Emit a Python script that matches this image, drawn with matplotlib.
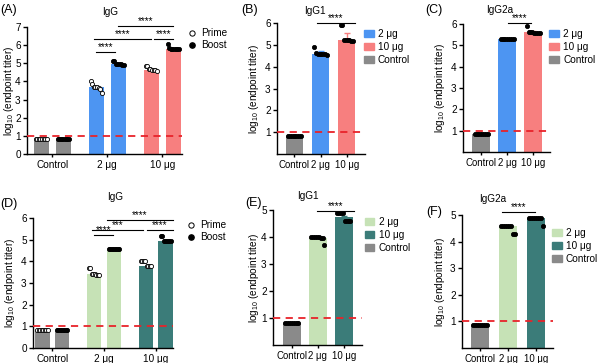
import numpy as np
import matplotlib
matplotlib.use("Agg")
import matplotlib.pyplot as plt
from matplotlib.patches import Patch
from matplotlib.lines import Line2D

plt.rcParams['font.family'] = ['Liberation Sans', 'DejaVu Sans']
plt.rcParams['mathtext.fontset'] = 'custom'
plt.rcParams['mathtext.rm'] = 'Liberation Sans'
plt.rcParams['mathtext.default'] = 'regular'
FS = 7.2
plt.rcParams['font.size'] = FS

# colours
blue = '#4d95f2'
salmon = '#f77f7f'
grey = '#8a8a8a'
green = '#c6e2b6'
teal = '#3b7c79'
red = '#e8232a'

groups = ['Control', '2 μg', '10 μg']

# ---- (A) IgG, prime / boost ----
a_prime = [0.85, 3.7, 4.65]
a_boost = [0.85, 4.97, 5.8]
a_prime_pts = [[0.85] * 8,
               [4.0, 3.85, 3.72, 3.7, 3.7, 3.65, 3.6, 3.35],
               [4.85, 4.85, 4.68, 4.66, 4.65, 4.64, 4.62, 4.6]]
a_boost_pts = [[0.85] * 8,
               [5.15, 5.15, 4.98, 4.97, 4.95, 4.95, 4.93, 4.92],
               [6.05, 5.82, 5.8, 5.8, 5.8, 5.8, 5.79, 5.78]]

# ---- (B) IgG1 ----
b_vals = [0.82, 4.6, 5.2]
b_err = [0.02, 0.1, 0.35]
b_pts = [[0.82] * 8,
         [4.9, 4.62, 4.6, 4.6, 4.58, 4.58, 4.57, 4.55],
         [5.9, 5.9, 5.22, 5.2, 5.2, 5.2, 5.18, 5.18]]

# ---- (C) IgG2a ----
c_vals = [0.85, 5.3, 5.62]
c_err = [0.02, 0.02, 0.06]
c_pts = [[0.85] * 8,
         [5.32, 5.31, 5.3, 5.3, 5.3, 5.29, 5.29, 5.28],
         [5.9, 5.64, 5.62, 5.62, 5.6, 5.6, 5.6, 5.58]]

# ---- (D) IgG, prime / boost ----
d_prime = [0.85, 3.4, 3.8]
d_boost = [0.85, 4.58, 4.95]
d_prime_pts = [[0.85] * 8,
               [3.7, 3.7, 3.4, 3.4, 3.4, 3.38, 3.38, 3.36],
               [4.0, 4.0, 4.0, 4.0, 3.8, 3.8, 3.8, 3.8]]
d_boost_pts = [[0.85] * 8,
               [4.58, 4.58, 4.58, 4.58, 4.58, 4.58, 4.58, 4.58],
               [5.15, 5.15, 4.95, 4.95, 4.95, 4.95, 4.93, 4.93]]

# ---- (E) IgG1 ----
e_vals = [0.82, 3.98, 4.75]
e_err = [0.02, 0.03, 0.04]
e_pts = [[0.82] * 8,
         [4.0, 4.0, 4.0, 4.0, 4.0, 3.98, 3.98, 3.7],
         [4.9, 4.9, 4.9, 4.9, 4.6, 4.6, 4.6, 4.6]]

# ---- (F) IgG2a ----
f_vals = [0.85, 4.58, 4.9]
f_err = [0.02, 0.04, 0.03]
f_pts = [[0.85] * 8,
         [4.6, 4.6, 4.6, 4.6, 4.6, 4.58, 4.3, 4.3],
         [4.9, 4.9, 4.9, 4.9, 4.9, 4.9, 4.88, 4.6]]

W, H = 600, 363
fig = plt.figure(figsize=(6, 3.63), dpi=100)


def make_ax(x0, x1, ytop, ybot, ylab_right):
    ax = fig.add_axes([x0 / W, 1 - ybot / H, (x1 - x0) / W, (ybot - ytop) / H])
    for s in ['top', 'right']:
        ax.spines[s].set_visible(False)
    for s in ['left', 'bottom']:
        ax.spines[s].set_linewidth(1.0)
    ax.tick_params(length=3, width=1.0, pad=1.5, labelsize=FS)
    ax.tick_params(axis='x', length=2, pad=2)
    ax.set_ylabel(r'log$_{10}$ (endpoint titer)', fontsize=FS)
    ax.yaxis.set_label_coords((ylab_right - x0) / (x1 - x0), 0.5)
    return ax


def dots(ax, x, pts, width, filled=True):
    pts = np.asarray(pts)
    xs = x + np.linspace(-width * 0.36, width * 0.36, len(pts))
    ax.plot(xs, pts, 'o', ms=3.0, mec='black', mew=0.6,
            mfc='black' if filled else 'white', zorder=4, clip_on=False)


def sig(ax, x1, x2, y, txt):
    ax.plot([x1, x2], [y, y], color='black', lw=0.8, clip_on=False)
    ax.text((x1 + x2) / 2, y, txt, ha='center', va='bottom', fontsize=FS,
            clip_on=False)


def paired(ax, prime, boost, ppts, bpts, cols, off, width, ymax):
    x = np.arange(len(groups))
    for i in x:
        for xx, v, pts, filled in [(i - off, prime[i], ppts[i], False),
                                   (i + off, boost[i], bpts[i], True)]:
            ax.bar(xx, v, width, color=cols[i], zorder=2)
            dots(ax, xx, pts, width, filled)
    ax.axhline(1, color=red, ls=(0, (4, 3)), lw=1.3, zorder=3)
    ax.set_xticks(x)
    ax.set_xticklabels(groups)
    ax.set_ylim(0, ymax)
    ax.set_yticks(range(ymax + 1))


def single(ax, vals, err, pts, cols, width, ymax):
    x = np.arange(len(vals))
    for i in x:
        ax.bar(i, vals[i], width, color=cols[i], zorder=2,
               yerr=err[i], error_kw=dict(ecolor=cols[i], lw=1, capsize=2, capthick=1))
        dots(ax, i, pts[i], width)
    ax.axhline(1, color=red, ls=(0, (4, 3)), lw=1.3, zorder=3)
    ax.set_xticks(x)
    ax.set_xticklabels(groups, fontsize=6.9)
    ax.set_ylim(0, ymax)
    ax.set_yticks(range(1, ymax + 1))


def bar_legend(cols, x, y):
    h = [Patch(color=cols[1]), Patch(color=cols[2]), Patch(color=cols[0])]
    fig.legend(h, ['2 μg', '10 μg', 'Control'], loc='upper left',
               bbox_to_anchor=(x / W, 1 - y / H), frameon=False, fontsize=FS,
               handlelength=0.95, handleheight=0.65, handletextpad=0.45,
               labelspacing=0.3, borderaxespad=0, borderpad=0)


def prime_legend(x, y):
    h = [Line2D([], [], ls='', marker='o', ms=3.8, mfc='white', mec='black', mew=0.7),
         Line2D([], [], ls='', marker='o', ms=3.8, mfc='black', mec='black')]
    fig.legend(h, ['Prime', 'Boost'], loc='upper left',
               bbox_to_anchor=(x / W, 1 - y / H), frameon=False, fontsize=FS,
               handlelength=0.8, handletextpad=0.5, labelspacing=0.25,
               borderaxespad=0, borderpad=0)


def label(x, y, txt, size=9):
    fig.text(x / W, 1 - y / H, txt, fontsize=size, ha='left', va='center')


def title(x, y, txt):
    fig.text(x / W, 1 - y / H, txt, fontsize=FS, ha='center', va='center')


# (A)
ax = make_ax(27, 182, 27, 154, 16)
paired(ax, a_prime, a_boost, a_prime_pts, a_boost_pts, [grey, blue, salmon], 0.2, 0.28, 7)
ax.set_xlim(-0.46, 2.36)
sig(ax, 0.8, 1.15, 5.6, '****')
sig(ax, 0.75, 1.8, 6.35, '****')
sig(ax, 1.85, 2.2, 6.35, '****')
sig(ax, 1.2, 2.2, 7.05, '****')
title(110, 12, 'IgG')
prime_legend(188, 28)
label(0, 10, '(A)')

# (B)
ax = make_ax(277, 365, 23, 154, 261)
single(ax, b_vals, b_err, b_pts, [grey, blue, salmon], 0.66, 6)
ax.set_xlim(-0.67, 2.7)
sig(ax, 0.85, 2.3, 6.0, '****')
title(315, 11, 'IgG1')
bar_legend([grey, blue, salmon], 364, 29)
label(241, 10, '(B)')

# (C)
ax = make_ax(463, 550, 24, 152, 447)
single(ax, c_vals, c_err, c_pts, [grey, blue, salmon], 0.69, 6)
ax.set_xlim(-0.7, 2.65)
sig(ax, 1.05, 1.9, 6.05, '****')
title(500, 10, 'IgG2a')
bar_legend([grey, blue, salmon], 549, 29)
label(425, 10, '(C)')

# (D)
ax = make_ax(33, 173, 218, 348, 17)
paired(ax, d_prime, d_boost, d_prime_pts, d_boost_pts, [grey, green, teal], 0.19, 0.28, 6)
ax.set_xlim(-0.37, 2.33)
sig(ax, 0.8, 1.17, 5.2, '****')
sig(ax, 0.77, 1.75, 5.45, '***')
sig(ax, 1.83, 2.33, 5.45, '****')
sig(ax, 1.05, 2.33, 5.9, '****')
title(115, 197, 'IgG')
prime_legend(187, 220)
label(0, 204, '(D)')

# (E)
ax = make_ax(273, 362, 210, 345, 261)
single(ax, e_vals, e_err, e_pts, [grey, green, teal], 0.7, 5)
ax.set_xlim(-0.73, 2.7)
sig(ax, 0.95, 2.4, 4.97, '****')
title(308, 196, 'IgG1')
bar_legend([grey, green, teal], 365, 217)
label(245, 203, '(E)')

# (F)
ax = make_ax(462, 553, 215, 348, 447)
single(ax, f_vals, f_err, f_pts, [grey, green, teal], 0.66, 5)
ax.set_xlim(-0.64, 2.6)
sig(ax, 0.78, 1.95, 5.1, '****')
title(493, 199, 'IgG2a')
bar_legend([grey, green, teal], 552, 228)
label(426, 212, '(F)')

fig.savefig('out.png', dpi=100)
